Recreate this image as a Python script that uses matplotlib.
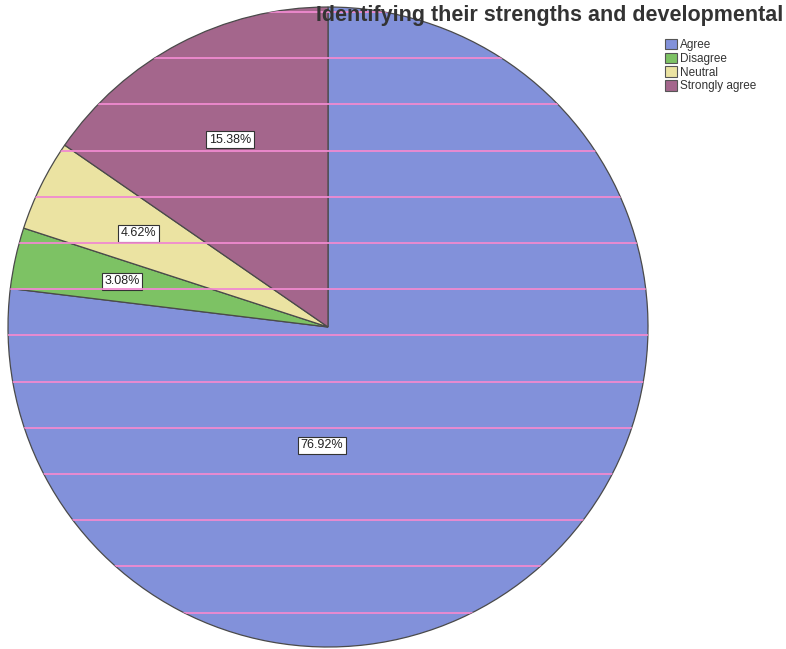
import matplotlib.pyplot as plt
import matplotlib.patches as mpatches
import numpy as np

plt.rcParams['font.family'] = ['Liberation Sans', 'DejaVu Sans']

# data
categories = ["Agree", "Disagree", "Neutral", "Strongly agree"]
percent = [76.92, 3.08, 4.62, 15.38]
colors = ["#8291da", "#7dc264", "#ebe3a2", "#a4668c"]
title = "Identifying their strengths and developmental"

W, H = 786, 649
fig = plt.figure(figsize=(W / 100, H / 100), dpi=100)

# pie axes: centre (328, 327) px, radius 320 px
cx, cy, r = 328, 327, 320
ax = fig.add_axes([(cx - r) / W, (H - cy - r) / H, 2 * r / W, 2 * r / H])

wedges, texts, autotexts = ax.pie(
    percent, colors=colors, startangle=90, counterclock=False,
    autopct=lambda p: f"{p:.2f}%", pctdistance=0.66,
    wedgeprops=dict(edgecolor="#4a4a4a", linewidth=0.9),
    textprops=dict(fontsize=9, color="#222222"),
)
for t in autotexts:
    t.set_bbox(dict(boxstyle="square,pad=0.2", facecolor="white",
                    edgecolor="#333333", linewidth=0.8))

# the big slice label sits below the centre in the original
ang = np.deg2rad(-93)
autotexts[0].set_position((0.37 * np.cos(ang), 0.37 * np.sin(ang)))

ax.set_xlim(-1, 1)
ax.set_ylim(-1, 1)
ax.set_aspect("equal")
ax.axis("off")

# pink scan streaks across the pie
circ = mpatches.Circle((0, 0), 1, transform=ax.transData)
for yp in np.arange(12, 640, 46.2):
    ln, = ax.plot([-1, 1], [(cy - yp) / r] * 2, color="#f08ad0", lw=1.3, zorder=5)
    ln.set_clip_path(circ)

# title at the top edge
fig.text(783 / W, 1 - 21 / H, title, ha="right", va="baseline",
         fontsize=15.5, fontweight="bold", color="#333333", zorder=10)

handles = [mpatches.Patch(facecolor=c, edgecolor="#555555", linewidth=0.8) for c in colors]
fig.legend(handles, categories, loc="upper left", bbox_to_anchor=(659 / W, 1 - 33 / H),
           frameon=False, fontsize=8.5, handlelength=1.0, handleheight=1.0,
           handletextpad=0.3, labelspacing=0.12, borderpad=0, labelcolor="#333333")

fig.savefig("out.png", dpi=100)
